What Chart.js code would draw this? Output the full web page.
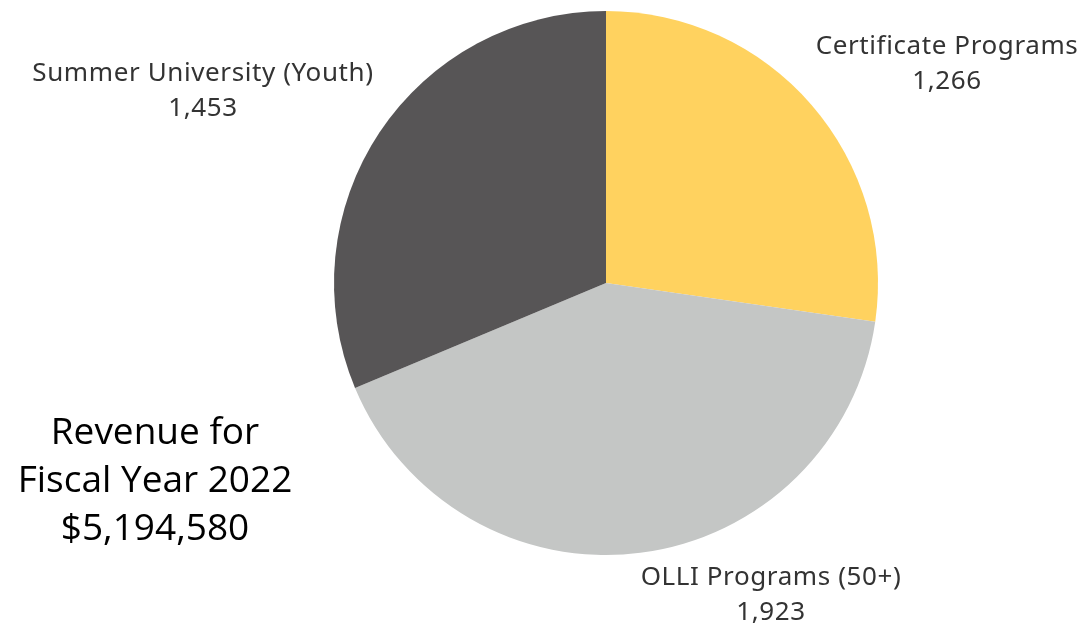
<!DOCTYPE html>
<html>
<head>
<meta charset="utf-8">
<script src="https://cdn.jsdelivr.net/npm/chart.js@4/dist/chart.umd.min.js"></script>
<style>
    html, body { margin: 0; padding: 0; background: #fff; }
    #wrap { width: 1087px; height: 628px; position: relative; }
</style>
</head>
<body>
<div id="wrap"><canvas id="pie"></canvas></div>
<script>
const categories = ['Certificate Programs', 'OLLI Programs (50+)', 'Summer University (Youth)'];
const enrollments = [1266, 1923, 1453];
const sliceColors = ['#FFD25F', '#C4C6C5', '#575556'];
const titleLines = ['Revenue for', 'Fiscal Year 2022', '$5,194,580'];

// where each slice label sits (centre of text block)
const labelAnchors = [
    { x: 947, y: 47 },
    { x: 771, y: 578 },
    { x: 203, y: 74 }
];

const sliceLabels = {
    id: 'sliceLabels',
    afterDraw(chart) {
        const ctx = chart.ctx;
        ctx.save();
        ctx.textAlign = 'center';
        ctx.textBaseline = 'middle';
        ctx.fillStyle = '#333333';
        ctx.font = '26px "Noto Sans", sans-serif';
        ctx.letterSpacing = '0.6px';
        categories.forEach((name, i) => {
            const a = labelAnchors[i];
            ctx.fillText(name, a.x, a.y);
            ctx.fillText(enrollments[i].toLocaleString('en-US'), a.x, a.y + 35);
        });

        ctx.fillStyle = '#000000';
        ctx.letterSpacing = '0px';
        ctx.font = '37px "Open Sans", sans-serif';
        titleLines.forEach((line, i) => {
            ctx.fillText(line, 155, 433 + i * 48);
        });
        ctx.restore();
    }
};

const ctx = document.getElementById('pie').getContext('2d');
new Chart(ctx, {
    type: 'pie',
    data: {
        labels: categories,
        datasets: [{
            data: enrollments,
            backgroundColor: sliceColors,
            borderWidth: 0
        }]
    },
    options: {
        responsive: true,
        maintainAspectRatio: false,
        animation: false,
        layout: {
            padding: { left: 334, right: 209, top: 11, bottom: 73 }
        },
        plugins: {
            legend: { display: false },
            tooltip: { enabled: false },
            title: { display: false }
        }
    },
    plugins: [sliceLabels]
});
</script>
</body>
</html>
